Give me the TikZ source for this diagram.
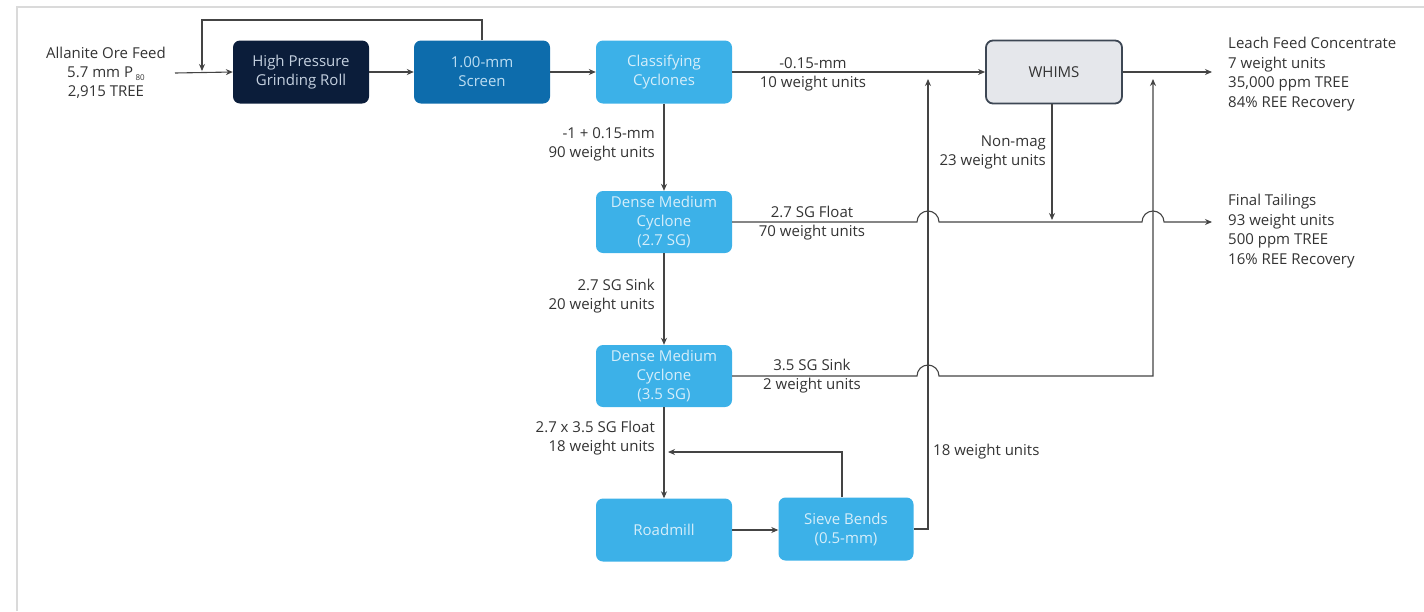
\documentclass[tikz,border=0pt]{standalone}
\usepackage{fontspec}
\setmainfont{Open Sans}
\usetikzlibrary{arrows.meta}
\definecolor{navy}{HTML}{0B1D3A}
\definecolor{midblue}{HTML}{0D6CAC}
\definecolor{lightblue}{HTML}{3CB1E8}
\definecolor{txtlight}{HTML}{D6EEFA}
\definecolor{txtmid}{HTML}{BCDDF2}
\definecolor{txtnavy}{HTML}{C5D1E0}
\definecolor{whimsfill}{HTML}{E5E7EB}
\definecolor{whimsdraw}{HTML}{3D4754}
\definecolor{ink}{HTML}{333333}
\definecolor{wire}{HTML}{444444}
\definecolor{frame}{HTML}{DADADA}
\tikzset{
  every node/.style={font=\fontsize{15}{19}\selectfont, text=ink, inner sep=0pt},
  procbox/.style={rounded corners=7pt, minimum width=136pt, minimum height=63pt, align=center},
  navybox/.style={procbox, fill=navy, text=txtnavy},
  midbox/.style={procbox, fill=midblue, text=txtmid},
  lightbox/.style={procbox, fill=lightblue, text=txtlight},
  whimsbox/.style={procbox, fill=whimsfill, draw=whimsdraw, line width=1.8pt, text=ink},
  flow/.style={draw=wire, line width=1.1pt},
  flowarrow/.style={flow, -{Stealth[length=7pt,width=6pt]}},
  lbl/.style={align=center},
  lblr/.style={align=right, anchor=east},
  lbll/.style={align=left, anchor=west},
  outtext/.style={align=left, anchor=north west, font=\fontsize{15}{19.5}\selectfont}
}
\begin{document}
\begin{tikzpicture}[x=1pt, y=-1pt]
\useasboundingbox (0,0) rectangle (1424,611);
\draw[frame, line width=2pt] (17,611) -- (17,7) -- (1424,7);

% process boxes
\node[navybox] (hpgr) at (301,72) {High Pressure\\Grinding Roll};
\node[midbox] (screen) at (482,72) {1.00-mm\\Screen};
\node[lightbox] (cc) at (664,72) {Classifying\\Cyclones};
\node[whimsbox] (whims) at (1054,72) {WHIMS};
\node[lightbox, minimum height=62pt] (dmc1) at (664,222) {Dense Medium\\Cyclone\\(2.7 SG)};
\node[lightbox, minimum height=62pt] (dmc2) at (664,376) {Dense Medium\\Cyclone\\(3.5 SG)};
\node[lightbox] (roadmill) at (664,530) {Roadmill};
\node[lightbox, minimum width=135pt] (sieve) at (846,529) {Sieve Bends\\(0.5-mm)};

% feed text
\node[lbl] (feed) at (106,73) {Allanite Ore Feed\\5.7 mm P\,\raisebox{-0.3ex}{\fontsize{8}{8}\selectfont 80}\\2,915 TREE};

% output texts
\node[outtext] (leach) at (1228,37) {Leach Feed Concentrate\\7 weight units\\35,000 ppm TREE\\84\% REE Recovery};
\node[outtext] (tails) at (1228,194) {Final Tailings\\93 weight units\\500 ppm TREE\\16\% REE Recovery};

% coordinates
\coordinate (feedstart) at (175,73);
\coordinate (recA) at (482,20);
\coordinate (recB) at (202,20);
\coordinate (recC) at (202,71);
\coordinate (leachend) at (1212,72);
\coordinate (tailend) at (1212,222);
\coordinate (j1a) at (917,222);
\coordinate (j1b) at (1142,222);
\coordinate (j2a) at (917,376);
\coordinate (c2) at (1153,376);
\coordinate (c2top) at (1153,79);
\coordinate (s1) at (928,529);
\coordinate (s1top) at (928,79);
\coordinate (nm) at (1052,220);
\coordinate (sr1) at (842,452);
\coordinate (sr2) at (668,452);

% connectors
\draw[flowarrow] (feedstart) -- (hpgr.west);
\draw[flowarrow] (screen.north) -- (recA) -- (recB) -- (recC);
\draw[flowarrow] (hpgr.east) -- (screen.west);
\draw[flowarrow] (screen.east) -- (cc.west);
\draw[flowarrow] (cc.east) -- (whims.west);
\draw[flowarrow] (whims.east) -- (leachend);
\draw[flowarrow] (cc.south) -- (dmc1.north);
\draw[flowarrow] (dmc1.south) -- (dmc2.north);
\draw[flowarrow] (dmc2.south) -- (roadmill.north);
\draw[flowarrow] (roadmill.east) -- (sieve.west |- roadmill.east);
\draw[flowarrow] (sieve.north -| sr1) -- (sr1) -- (sr2);
\draw[flowarrow] (sieve.east) -- (s1) -- (s1top);
\draw[flowarrow] (dmc2.east) -- (j2a) arc[start angle=180, end angle=0, radius=11pt] -- (c2) -- (c2top);
\draw[flowarrow] (dmc1.east) -- (j1a) arc[start angle=180, end angle=0, radius=11pt] -- (j1b) arc[start angle=180, end angle=0, radius=11pt] -- (tailend);
\draw[flowarrow] (whims.south -| nm) -- (nm);

% labels
\node[lbl] (l1) at (813,63) {-0.15-mm};
\node[lbl] (l2) at (813,84) {10 weight units};
\node[lblr] (l3) at (655,144) {-1 + 0.15-mm\\90 weight units};
\node[lblr] (l4) at (1046,152) {Non-mag\\23 weight units};
\node[lbl] (l5) at (812,212) {2.7 SG Float};
\node[lbl] (l6) at (812,233) {70 weight units};
\node[lblr] (l7) at (655,296) {2.7 SG Sink\\20 weight units};
\node[lbl] (l8) at (812,365) {3.5 SG Sink};
\node[lbl] (l9) at (812,386) {2 weight units};
\node[lblr] (l10) at (655,438) {2.7 x 3.5 SG Float\\18 weight units};
\node[lbll] (l11) at (933,452) {18 weight units};
\end{tikzpicture}
\end{document}
